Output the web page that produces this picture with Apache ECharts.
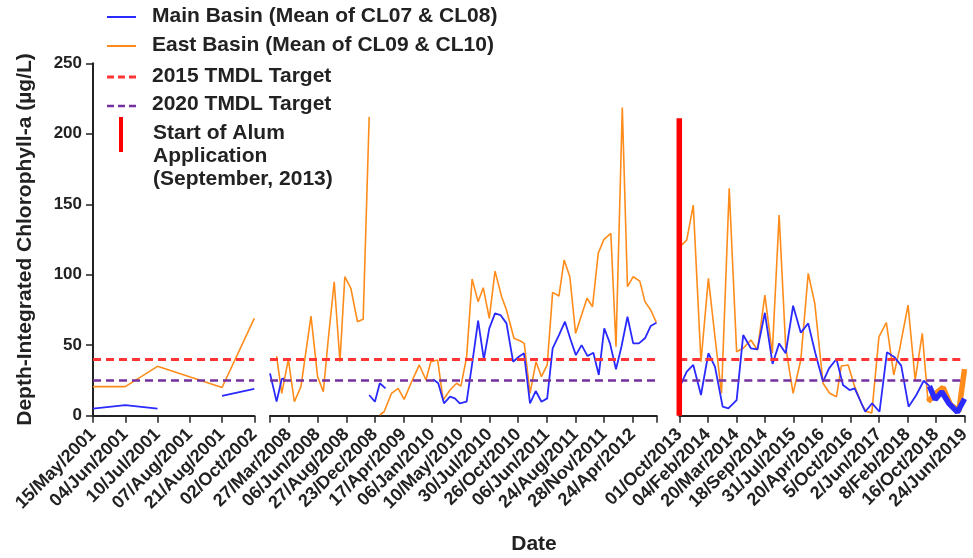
<!DOCTYPE html>
<html>
<head>
<meta charset="utf-8">
<script src="https://cdn.jsdelivr.net/npm/echarts@6/dist/echarts.min.js"></script>
<style>
  html, body { margin: 0; padding: 0; background: #fff; }
  #chart { width: 973px; height: 558px; }
</style>
</head>
<body>
<div id="chart"></div>
<script>
var dom = document.getElementById('chart');
var myChart = echarts.init(dom);

// tick labels of the three date segments
var labels2001 = ['15/May/2001', '04/Jun/2001', '10/Jul/2001', '07/Aug/2001', '21/Aug/2001', '02/Oct/2002'];
var labels2008 = ['27/Mar/2008', '06/Jun/2008', '27/Aug/2008', '23/Dec/2008', '17/Apr/2009', '06/Jan/2010',
  '10/May/2010', '30/Jul/2010', '26/Oct/2010', '06/Jun/2011', '24/Aug/2011', '28/Nov/2011', '24/Apr/2012'];
var labels2013 = ['01/Oct/2013', '04/Feb/2014', '20/Mar/2014', '18/Sep/2014', '31/Jul/2015', '20/Apr/2016',
  '5/Oct/2016', '2/Jun/2017', '8/Feb/2018', '16/Oct/2018', '24/Jun/2019'];

// positions are in tick steps along each segment, null = no sample
var mainPos1 = [0, 1, 2, 3, 4, 5];
var mainVal1 = [5, 7.5, 5, null, 14, 19];
var eastPos1 = [0, 1, 2, 4, 5];
var eastVal1 = [20.6, 20.6, 35, 20, 69];

var mainPos2 = [-0.66, -0.43, -0.25, -0.17, 1.5, 2.8, 3.0, 3.17, 3.37, 4.2, 5.03, 5.21, 5.41, 5.62, 5.79, 5.96,
  6.2, 6.41, 6.6, 6.8, 6.99, 7.19, 7.38, 7.59, 7.82, 8.02, 8.2, 8.41, 8.61, 8.81, 9.01, 9.2, 9.42, 9.63, 9.83,
  10.01, 10.21, 10.42, 10.62, 10.81, 11.0, 11.2, 11.41, 11.6, 11.81, 12.01, 12.21, 12.42, 12.62, 12.82];
var mainVal2 = [30, 10, 26, 26.5, null, 14.7, 9.9, 23, 19.4, null, 25.8, 23, 8.8, 13.5, 12.3, 8.8,
  9.9, 39.5, 67.4, 40, 62, 72.6, 71.4, 65.5, 38.3, 41.8, 44.3, 8.8, 17.5, 9.9, 12.3, 47.8, 57.2, 66.7, 53.7,
  43, 50.1, 42.3, 44.7, 28.9, 62, 51.3, 32.9, 48.9, 70.2, 51.3, 51.3, 54.9, 63.6, 66];
var eastPos2 = [-0.43, -0.25, -0.02, 0.19, 0.42, 0.77, 1.0, 1.2, 1.37, 1.58, 1.78, 1.95, 2.16, 2.39, 2.59, 2.8,
  3.0, 3.17, 3.32, 3.58, 3.81, 4.02, 4.28, 4.55, 4.78, 4.95, 5.19, 5.38, 5.62, 5.85, 6.0, 6.2, 6.39, 6.6, 6.78,
  6.99, 7.19, 7.42, 7.59, 7.85, 8.06, 8.21, 8.41, 8.62, 8.81, 9.01, 9.2, 9.42, 9.6, 9.8, 10.0, 10.21, 10.4,
  10.59, 10.79, 10.99, 11.23, 11.41, 11.63, 11.81, 12.01, 12.24, 12.42, 12.62, 12.82];
var eastVal2 = [42.3, 15.9, 40, 9.9, 20.6, 70.7, 27.7, 17, 53.7, 95, 38.3, 98.6, 90.4, 66.7, 68.4, 212,
  null, 0.5, 2.8, 15.9, 19.4, 11.6, 24.1, 36, 25.3, 38.3, 39.5, 11.1, 18.2, 23, 21, 41.8, 97, 80.9, 90.8,
  69, 102.6, 84.4, 75, 54.9, 53.2, 51.3, 15.9, 38.3, 27.7, 36, 87.5, 84.9, 110.4, 98.6, 58.4, 71.4, 83.3,
  77.3, 115.2, 125.1, 129.4, 48.9, 218.7, 91.5, 98.6, 95.5, 80.9, 75, 66];

var mainPos3 = [0.02, 0.26, 0.49, 0.76, 1.02, 1.25, 1.52, 1.72, 2.01, 2.24, 2.51, 2.74, 3.0, 3.27, 3.5, 3.73,
  3.99, 4.26, 4.52, 4.77, 5.04, 5.25, 5.51, 5.74, 5.97, 6.15, 6.52, 6.76, 7.02, 7.28, 7.55, 7.78, 8.04, 8.31,
  8.57, 8.77];
var mainVal3 = [20.6, 31.2, 36, 14.7, 44.3, 34.8, 6.4, 5.2, 11.1, 57.2, 47.8, 47.1, 73, 36.7, 51.3, 44.3,
  78, 58.9, 65.5, 44.3, 24.1, 33.6, 40.2, 21.8, 18.2, 19.4, 2.8, 8.8, 2.8, 45, 41.4, 35.5, 6.4, 14.7,
  24.8, 21];
var mainPos3b = [8.77, 8.97, 9.2, 9.45, 9.75, 10];
var mainVal3b = [21, 11.5, 17, 8.8, 2.5, 12];
var eastPos3 = [0.08, 0.26, 0.49, 0.76, 1.02, 1.25, 1.48, 1.75, 2.01, 2.24, 2.51, 2.74, 3.0, 3.26, 3.5, 3.73,
  3.99, 4.26, 4.52, 4.75, 5.04, 5.27, 5.51, 5.68, 5.92, 6.15, 6.4, 6.55, 6.75, 7.0, 7.26, 7.52, 7.73, 8.02,
  8.27, 8.52, 8.72];
var eastVal3 = [121, 124.6, 149.4, 38.3, 97.4, 56, 15.9, 161.3, 45.4, 47.8, 53.7, 46.6, 85.6, 44.3, 142.3, 48.9,
  15.9, 39.5, 101, 79.7, 23, 15.9, 13.5, 35.2, 36, 20.6, 8, 3, 2, 56, 66, 28.9, 47.8, 78.5,
  25.3, 58.4, 10];
var eastPos3b = [8.72, 9.0, 9.25, 9.5, 9.8, 10];
var eastVal3b = [10, 16, 20, 8, 3, 33];

var target2015 = 40;
var target2020 = 25;
var alumStart = [[0, 0], [0, 211]];

var FONT = "'Liberation Sans', Arial, sans-serif";
var INK = '#222';
var BLUE = '#2a2aff';
var ORANGE = '#ff8c1a';
var RED = '#ff3535';
var PURPLE = '#7530a0';

function pairs(pos, val) {
  return pos.map(function (p, i) { return [p, val[i]]; });
}
function idx(list) {
  return list.map(function (_, i) { return i; });
}

var targetLines = {
  silent: true,
  symbol: 'none',
  label: { show: false },
  data: [
    { yAxis: target2015, lineStyle: { color: RED, width: 3, type: [8, 5] } },
    { yAxis: target2020, lineStyle: { color: PURPLE, width: 2.5, type: [8, 5] } }
  ]
};

function xAxisFor(i, labels, min, max, extra) {
  var ax = {
    type: 'value',
    gridIndex: i,
    min: min,
    max: max,
    axisLine: { show: true, onZero: false, lineStyle: { color: INK, width: 2 } },
    axisTick: { show: true, length: 7, lineStyle: { color: INK, width: 1.5 } },
    splitLine: { show: false },
    axisLabel: {
      rotate: 45,
      margin: 16,
      color: INK,
      fontFamily: FONT,
      fontWeight: 'bold',
      fontSize: 18,
      formatter: function (v) { return labels[Math.round(v)] || ''; }
    }
  };
  if (extra) {
    ax.axisTick.customValues = extra.ticks;
    ax.axisLabel.customValues = extra.labels;
  } else {
    ax.interval = 1;
  }
  return ax;
}

function yAxisFor(i, visible) {
  return {
    type: 'value',
    gridIndex: i,
    min: 0,
    max: 250,
    interval: 50,
    show: visible,
    name: visible ? 'Depth-Integrated Chlorophyll-a (\u00b5g/L)' : '',
    nameLocation: 'middle',
    nameGap: 57,
    nameTextStyle: { color: INK, fontFamily: FONT, fontWeight: 'bold', fontSize: 21 },
    axisLine: { show: true, lineStyle: { color: INK, width: 2 } },
    axisTick: { show: true, length: 7, lineStyle: { color: INK, width: 1.5 } },
    splitLine: { show: false },
    axisLabel: { margin: 11, color: INK, fontFamily: FONT, fontWeight: 'bold', fontSize: 17 }
  };
}

function lineSeries(name, grid, data, color, width, extra) {
  var s = {
    name: name,
    type: 'line',
    xAxisIndex: grid,
    yAxisIndex: grid,
    data: data,
    showSymbol: false,
    symbol: 'none',
    connectNulls: false,
    lineStyle: { color: color, width: width },
    itemStyle: { color: color }
  };
  if (extra) { for (var k in extra) s[k] = extra[k]; }
  return s;
}

var ticks2008 = [-0.66].concat(idx(labels2008), [12.83]);

option = {
  animation: false,
  backgroundColor: '#fff',
  grid: [
    { left: 93, top: 63.3, width: 161.3, height: 352.4 },
    { left: 270, top: 63.3, width: 386.7, height: 352.4 },
    { left: 679.3, top: 63.3, width: 285.7, height: 352.4 }
  ],
  xAxis: [
    xAxisFor(0, labels2001, 0, 5),
    xAxisFor(1, labels2008, -0.66, 12.83, { ticks: ticks2008, labels: idx(labels2008) }),
    xAxisFor(2, labels2013, 0, 10)
  ],
  yAxis: [yAxisFor(0, true), yAxisFor(1, false), yAxisFor(2, false)],
  series: [
    lineSeries('East Basin', 0, pairs(eastPos1, eastVal1), ORANGE, 1.6, { markLine: targetLines }),
    lineSeries('Main Basin', 0, pairs(mainPos1, mainVal1), BLUE, 1.8),
    lineSeries('East Basin', 1, pairs(eastPos2, eastVal2), ORANGE, 1.6, { markLine: targetLines }),
    lineSeries('Main Basin', 1, pairs(mainPos2, mainVal2), BLUE, 1.8),
    lineSeries('East Basin', 2, pairs(eastPos3, eastVal3), ORANGE, 1.6, { markLine: targetLines }),
    lineSeries('East Basin', 2, pairs(eastPos3b, eastVal3b), ORANGE, 5.5),
    lineSeries('Main Basin', 2, pairs(mainPos3, mainVal3), BLUE, 1.8),
    lineSeries('Main Basin', 2, pairs(mainPos3b, mainVal3b), BLUE, 5.5),
    lineSeries('Start of Alum Application', 2, alumStart, '#ff0000', 5.5, { clip: false, z: 5 })
  ],
  graphic: [
    { type: 'line', shape: { x1: 107, y1: 17, x2: 136, y2: 17 }, style: { stroke: BLUE, lineWidth: 2 } },
    { type: 'text', x: 152, y: 16, style: { text: 'Main Basin (Mean of CL07 & CL08)', fill: INK, font: 'bold 21px ' + FONT, verticalAlign: 'middle' } },
    { type: 'line', shape: { x1: 107, y1: 46, x2: 136, y2: 46 }, style: { stroke: ORANGE, lineWidth: 2 } },
    { type: 'text', x: 152, y: 45.5, style: { text: 'East Basin (Mean of CL09 & CL10)', fill: INK, font: 'bold 21px ' + FONT, verticalAlign: 'middle' } },
    { type: 'line', shape: { x1: 107, y1: 77, x2: 136, y2: 77 }, style: { stroke: RED, lineWidth: 3, lineDash: [7, 4] } },
    { type: 'text', x: 152, y: 76, style: { text: '2015 TMDL Target', fill: INK, font: 'bold 21px ' + FONT, verticalAlign: 'middle' } },
    { type: 'line', shape: { x1: 107, y1: 106, x2: 136, y2: 106 }, style: { stroke: PURPLE, lineWidth: 2.5, lineDash: [7, 4] } },
    { type: 'text', x: 152, y: 104.5, style: { text: '2020 TMDL Target', fill: INK, font: 'bold 21px ' + FONT, verticalAlign: 'middle' } },
    { type: 'line', shape: { x1: 121, y1: 117, x2: 121, y2: 152 }, style: { stroke: '#ff0000', lineWidth: 4 } },
    { type: 'text', x: 153, y: 121.5, style: { text: 'Start of Alum\nApplication\n(September, 2013)', fill: INK, font: 'bold 21px ' + FONT, lineHeight: 23, verticalAlign: 'top' } },
    { type: 'text', x: 534, y: 544, style: { text: 'Date', fill: INK, font: 'bold 21px ' + FONT, align: 'center', verticalAlign: 'middle' } }
  ]
};

if (option && typeof option === 'object') {
  myChart.setOption(option, true);
}
</script>
</body>
</html>
